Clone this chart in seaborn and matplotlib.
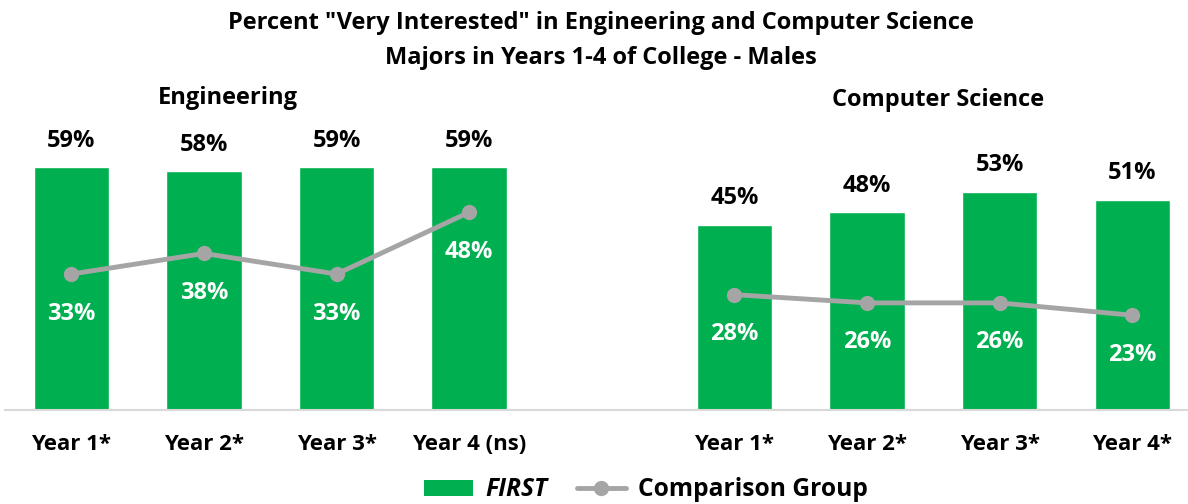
import matplotlib
matplotlib.use("Agg")
import matplotlib.pyplot as plt
import seaborn as sns
import pandas as pd
from matplotlib.patches import Patch
from matplotlib.lines import Line2D

groups = ["Engineering"] * 4 + ["Computer Science"] * 4
labels = ["Year 1*", "Year 2*", "Year 3*", "Year 4 (ns)",
          "Year 1*", "Year 2*", "Year 3*", "Year 4*"]
first_vals = [59, 58, 59, 59, 45, 48, 53, 51]
comp_vals = [33, 38, 33, 48, 28, 26, 26, 23]
positions = [0, 1, 2, 3, 5, 6, 7, 8]

GREEN = "#00B050"
GRAY = "#A5A5A5"

sns.set_theme(style="white")
plt.rcParams["font.family"] = ["Open Sans", "DejaVu Sans"]
plt.rcParams["font.weight"] = "bold"
plt.rcParams["text.color"] = "black"

df = pd.DataFrame({"group": groups, "label": labels, "pos": positions,
                   "first": first_vals, "comp": comp_vals})

W, H = 1188, 504
fig = plt.figure(figsize=(W / 100, H / 100), dpi=100)
ax = fig.add_axes([5 / W, 94 / H, 1 - 5 / W, 330 / H])

sns.barplot(data=df, x="pos", y="first", native_scale=True, width=0.57,
            color=GREEN, saturation=1, ax=ax, zorder=2)
sns.lineplot(data=df, x="pos", y="comp", units="group", estimator=None,
             color=GRAY, linewidth=3.5, marker="o", markersize=11,
             markeredgewidth=0, ax=ax, zorder=3)

ax.set_xlim(-0.5, 8.42)
ax.set_ylim(0, 80.1)
ax.set_yticks([])
ax.set_xticks(positions)
ax.set_xticklabels(labels, fontsize=16, fontweight="bold", color="black")
ax.tick_params(axis="x", length=0, pad=17)
ax.set_xlabel("")
ax.set_ylabel("")
for s in ["top", "left", "right"]:
    ax.spines[s].set_visible(False)
ax.spines["bottom"].set_color("#D9D9D9")
ax.spines["bottom"].set_linewidth(1.5)
if ax.get_legend():
    ax.get_legend().remove()

for p, f, c in zip(positions, first_vals, comp_vals):
    ax.annotate(f"{f}%", (p, f), xytext=(0, 19), textcoords="offset points",
                ha="center", va="center", fontsize=17, fontweight="bold", color="black")
    ax.annotate(f"{c}%", (p, c), xytext=(0, -28.5), textcoords="offset points",
                ha="center", va="center", fontsize=17, fontweight="bold", color="white", zorder=4)

fig.text(601 / W, 1 - 23 / H, 'Percent "Very Interested" in Engineering and Computer Science',
         ha="center", va="center", fontsize=17, fontweight="bold", color="black")
fig.text(601 / W, 1 - 58 / H, "Majors in Years 1-4 of College - Males",
         ha="center", va="center", fontsize=17, fontweight="bold", color="black")
fig.text(228 / W, 1 - 98 / H, "Engineering", ha="center", va="center",
         fontsize=17, fontweight="bold", color="black")
fig.text(938 / W, 1 - 100 / H, "Computer Science", ha="center", va="center",
         fontsize=17, fontweight="bold", color="black")

handles = [Patch(facecolor=GREEN, edgecolor="none"),
           Line2D([0], [0], color=GRAY, linewidth=3.5, marker="o", markersize=11,
                  markeredgewidth=0)]
leg = fig.legend(handles, ["FIRST", "Comparison Group"], loc="center",
                 bbox_to_anchor=(646 / W, 1 - 490 / H), ncol=2, frameon=False,
                 handlelength=2.0, handleheight=0.6, handletextpad=0.5,
                 columnspacing=1.2, prop={"size": 17.7, "weight": "bold"},
                 labelcolor="black")
leg.get_texts()[0].set_fontstyle("italic")

fig.savefig("out.png", dpi=100)
